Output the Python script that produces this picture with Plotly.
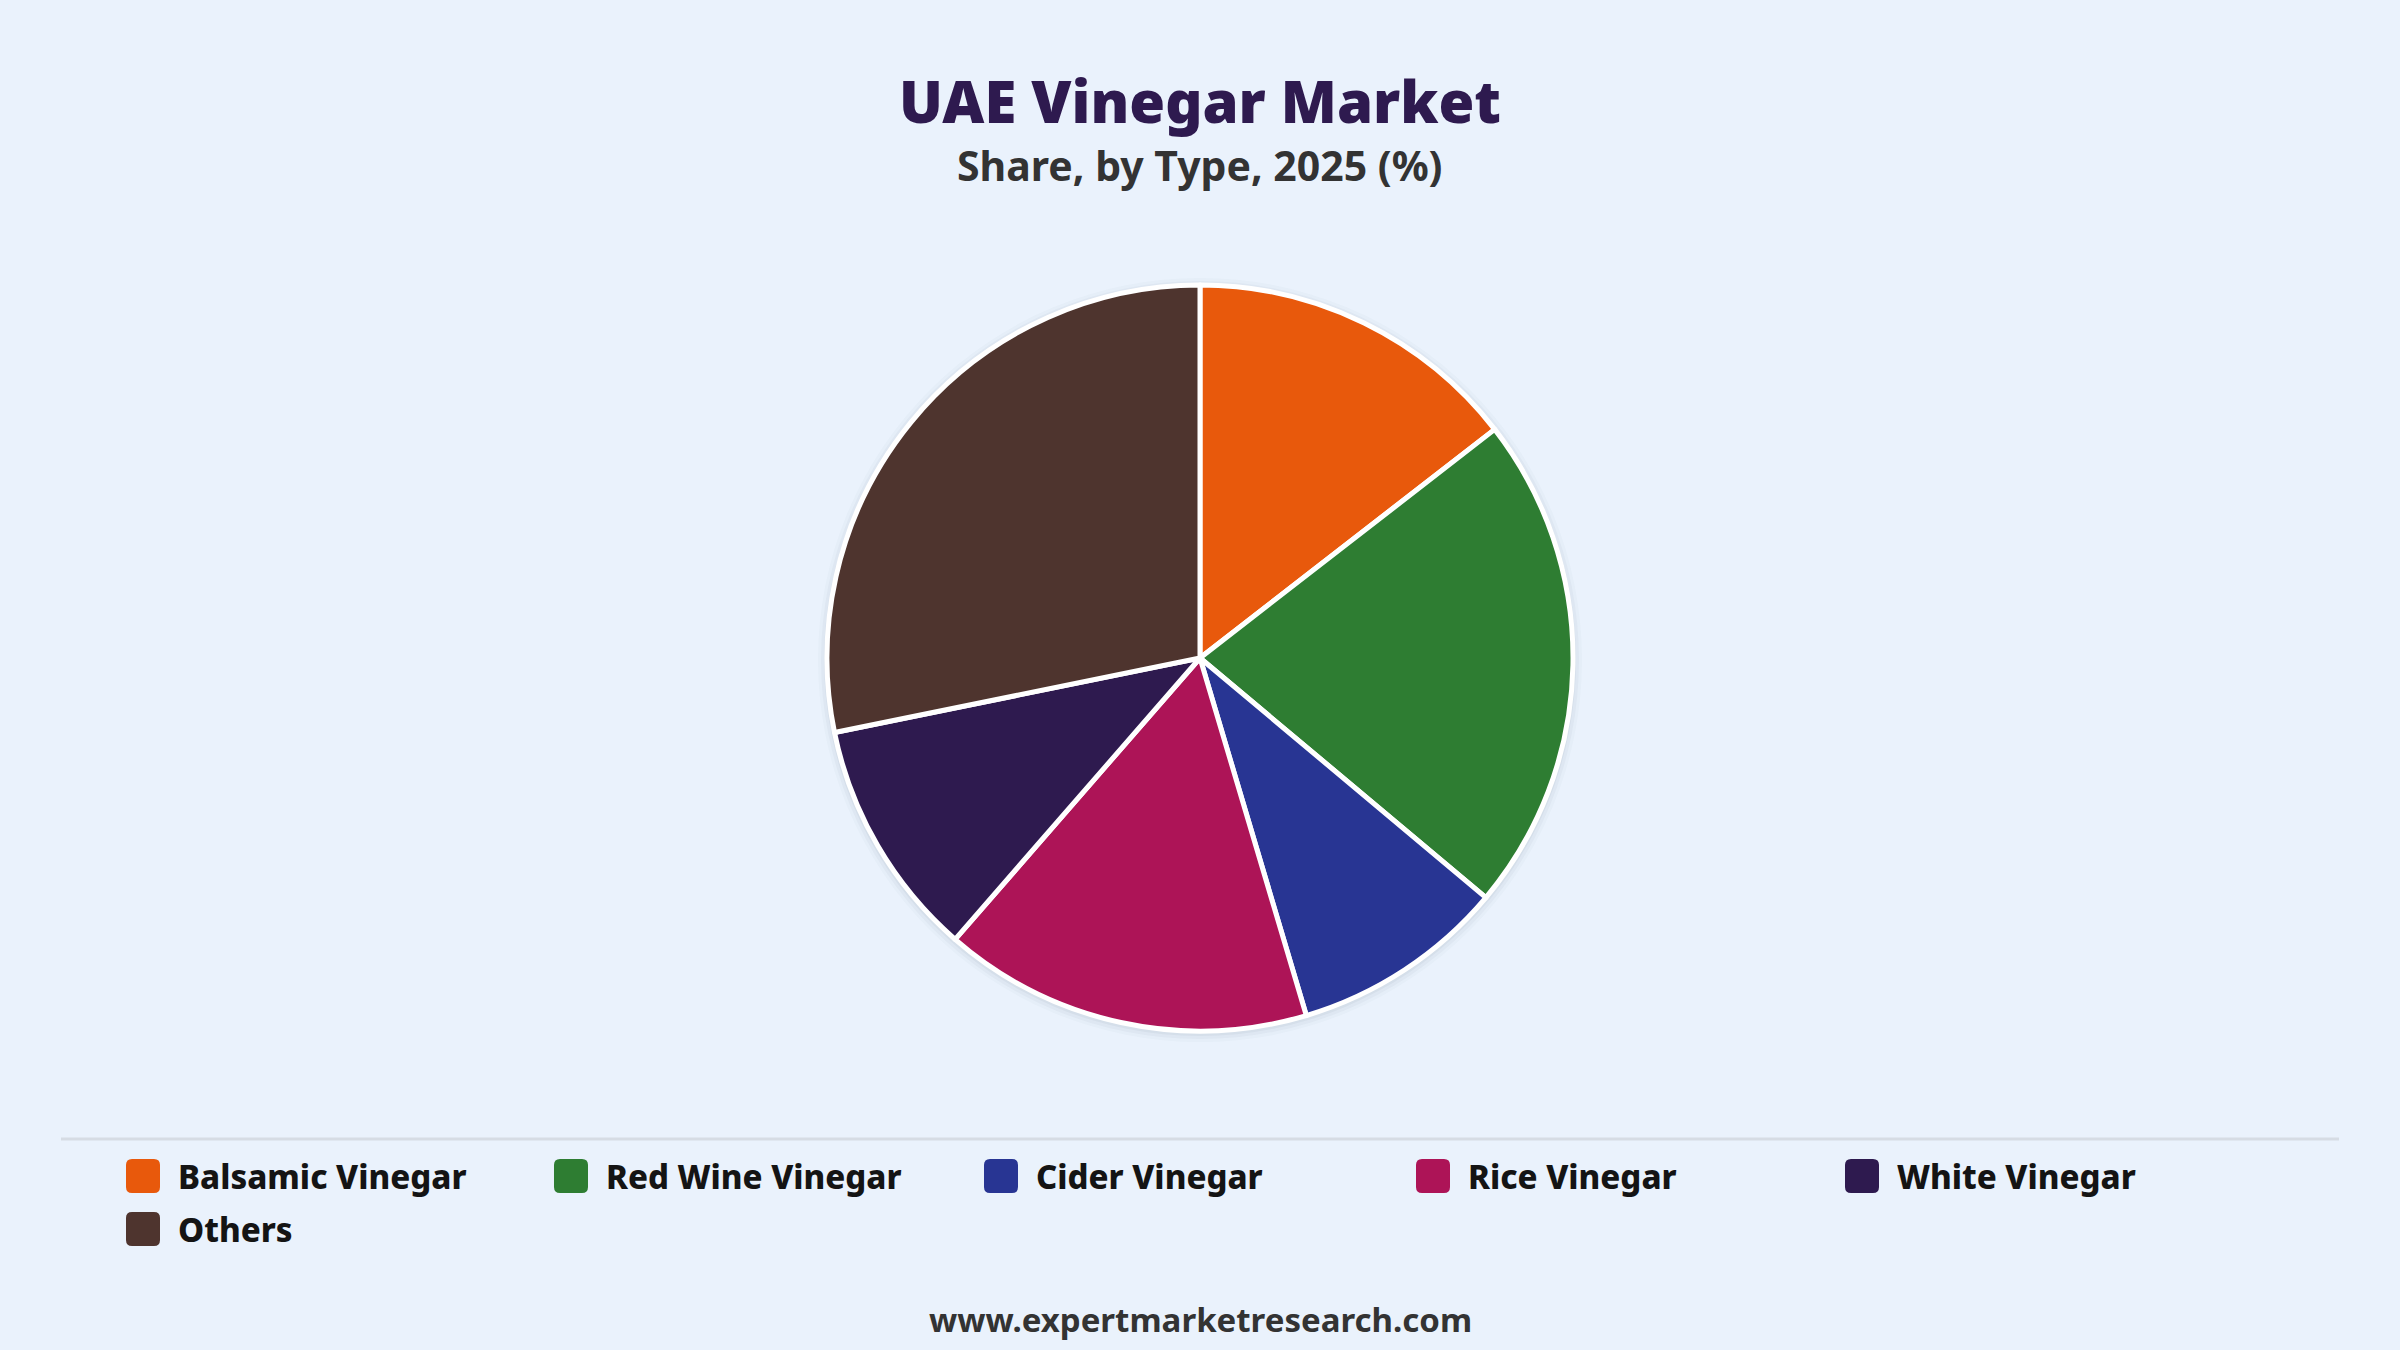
import plotly.graph_objects as go

# share by type, 2025 (%)
types = ['Balsamic Vinegar', 'Red Wine Vinegar', 'Cider Vinegar', 'Rice Vinegar', 'White Vinegar', 'Others']
share = [14.5, 21.6, 9.3, 16.0, 10.4, 28.2]
colors = ['#E8590C', '#2E7D32', '#283593', '#AD1457', '#2E1A4F', '#4E342E']

W, H = 2400, 1350
FONT = 'Noto Sans'
BG = '#EAF2FC'

def px(x):
    return x / W

def py(y):
    return 1 - y / H

cx, cy, r = 1200, 658, 373

fig = go.Figure()

fig.add_trace(go.Pie(
    labels = types, values = share,
    marker = dict(colors = colors, line = dict(color = 'white', width = 5)),
    sort = False, direction = 'clockwise', rotation = 0,
    textinfo = 'none', hoverinfo = 'label+percent',
    showlegend = False,
    domain = dict(x = [px(cx - r), px(cx + r)], y = [py(cy + r), py(cy - r)]),
))

shapes = []
# soft shadow round the pie
for d, a in [(9, 0.025), (6, 0.035), (3, 0.05)]:
    shapes.append(dict(type = 'circle', xref = 'paper', yref = 'paper', layer = 'below',
                       x0 = px(cx - r - d), x1 = px(cx + r + d), y0 = py(cy + r + d + 2), y1 = py(cy - r - d + 2),
                       fillcolor = 'rgba(60,70,90,%s)' % a, line = dict(width = 0)))

# separator above legend
shapes.append(dict(type = 'line', xref = 'paper', yref = 'paper',
                   x0 = px(61), x1 = px(2339), y0 = py(1139), y1 = py(1139),
                   line = dict(color = '#D6DCE4', width = 3)))

def rounded_box(x, y, s, rad):
    # x,y = top-left in pixels
    x0, x1, y0, y1 = px(x), px(x + s), py(y), py(y + s)
    rx, ry = rad / W, rad / H
    p = 'M %f,%f L %f,%f Q %f,%f %f,%f L %f,%f Q %f,%f %f,%f L %f,%f Q %f,%f %f,%f L %f,%f Q %f,%f %f,%f Z' % (
        x0 + rx, y0, x1 - rx, y0, x1, y0, x1, y0 - ry,
        x1, y1 + ry, x1, y1, x1 - rx, y1,
        x0 + rx, y1, x0, y1, x0, y1 + ry,
        x0, y0 - ry, x0, y0, x0 + rx, y0)
    return p

annotations = []
col_x = [126, 554, 984, 1416, 1845]
row_y = [1176, 1229]
box = 34
for i, (name, c) in enumerate(zip(types, colors)):
    row, col = divmod(i, 5)
    x = col_x[col]
    y = row_y[row]
    shapes.append(dict(type = 'path', xref = 'paper', yref = 'paper',
                       path = rounded_box(x, y - box / 2, box, 6),
                       fillcolor = c, line = dict(width = 0)))
    annotations.append(dict(text = name, xref = 'paper', yref = 'paper',
                            x = px(x + box + 16), y = py(y), xanchor = 'left', yanchor = 'middle',
                            showarrow = False, font = dict(family = FONT, size = 33, color = '#141414', weight = 800)))

annotations.append(dict(text = 'UAE Vinegar Market', xref = 'paper', yref = 'paper',
                        x = 0.5, y = py(100), xanchor = 'center', yanchor = 'middle', showarrow = False,
                        font = dict(family = FONT, size = 58, color = '#2E1A4F', weight = 900)))
annotations.append(dict(text = 'Share, by Type, 2025 (%)', xref = 'paper', yref = 'paper',
                        x = 0.5, y = py(165), xanchor = 'center', yanchor = 'middle', showarrow = False,
                        font = dict(family = FONT, size = 41, color = '#333333', weight = 700)))
annotations.append(dict(text = 'www.expertmarketresearch.com', xref = 'paper', yref = 'paper',
                        x = 0.5, y = py(1319), xanchor = 'center', yanchor = 'middle', showarrow = False,
                        font = dict(family = FONT, size = 33, color = '#333333', weight = 700)))

fig.update_layout(
    width = W, height = H,
    margin = dict(l = 0, r = 0, t = 0, b = 0),
    paper_bgcolor = BG, plot_bgcolor = BG,
    shapes = shapes, annotations = annotations,
    showlegend = False,
)

fig.write_html('out.html', config = {'displayModeBar': False},
               post_script = "document.body.style.margin='0';document.body.style.background='%s';" % BG)
